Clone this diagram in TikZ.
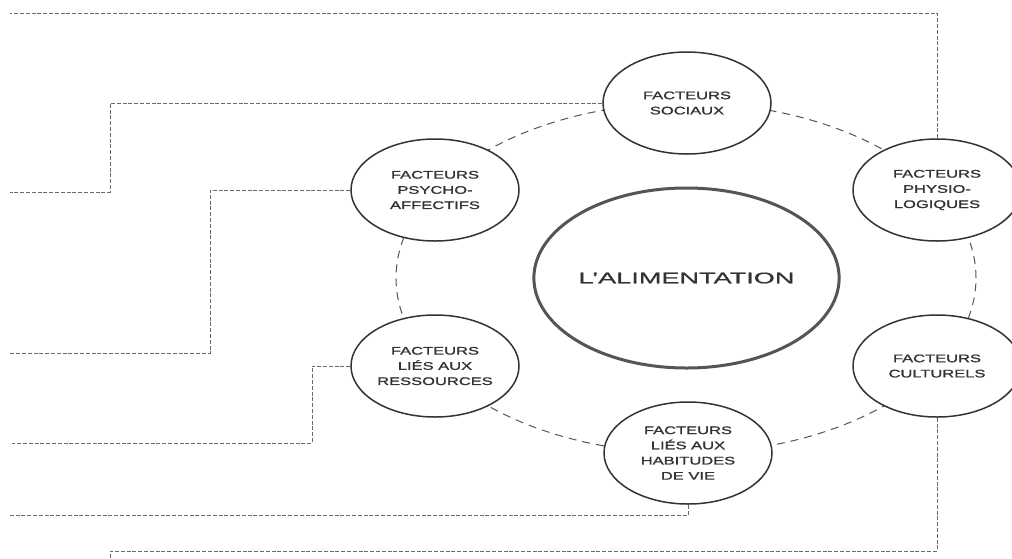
\documentclass[tikz,border=0pt]{standalone}
\usepackage{fontspec}
\usetikzlibrary{shapes.geometric}
\newfontfamily\smallwide[FakeStretch=1.5,FakeBold=1.3]{Liberation Sans}
\newfontfamily\bigwide[FakeStretch=1.76,FakeBold=0.8]{Liberation Sans}
\definecolor{ink}{HTML}{333333}
\definecolor{dashgray}{HTML}{6A6A6A}
\definecolor{ringgray}{HTML}{555555}
\definecolor{centralgray}{HTML}{555555}
\begin{document}
\begin{tikzpicture}[x=1pt,y=-1pt,
  factor/.style={ellipse, draw=ink, line width=1.5pt, fill=white,
    minimum width=168pt, minimum height=102pt, inner sep=0pt,
    align=center, text=ink, font=\smallwide\fontsize{11}{15.2}\selectfont},
  central/.style={ellipse, draw=centralgray, line width=3pt, fill=white,
    minimum width=297pt, minimum height=180pt, inner sep=0pt,
    text=ink, font=\bigwide\fontsize{15.4}{18}\selectfont},
  conn/.style={draw=dashgray, line width=0.7pt, dash pattern=on 4pt off 1.8pt},
  ring/.style={draw=ringgray, line width=1pt, dash pattern=on 8pt off 6pt}]
\clip (0,0) rectangle (1012,558);
\fill[white] (0,0) rectangle (1012,558);

% dashed ring behind the factor ellipses
\draw[ring] (686,278) ellipse [x radius=290pt, y radius=175pt];

% nodes
\node[central] (ali) at (686.5,278) {L’ALIMENTATION};
\node[factor] (soc) at (687,103) {FACTEURS\\SOCIAUX};
\node[factor] (phy) at (937,190) {FACTEURS\\PHYSIO-\\LOGIQUES};
\node[factor] (cul) at (937,366) {FACTEURS\\CULTURELS};
\node[factor] (hab) at (688,453) {FACTEURS\\LIÉS AUX\\HABITUDES\\DE VIE};
\node[factor] (res) at (435,366) {FACTEURS\\LIÉS AUX\\RESSOURCES};
\node[factor] (psy) at (435,190) {FACTEURS\\PSYCHO-\\AFFECTIFS};

% free ends and corners of connectors
\coordinate (e1) at (10,13);
\coordinate (k2) at (110,192);
\coordinate (e2) at (10,192);
\coordinate (k3) at (210,353);
\coordinate (e3) at (10,353);
\coordinate (k4) at (312,443);
\coordinate (e4) at (12,443);
\coordinate (e5) at (10,515);
\coordinate (k6) at (110,551);
\coordinate (e6) at (110,562);

% connectors
\draw[conn] (phy.north) |- (e1);
\draw[conn] (soc.west) -| (k2) -- (e2);
\draw[conn] (psy.west) -| (k3) -- (e3);
\draw[conn] (res.west) -| (k4) -- (e4);
\draw[conn] (hab.south) |- (e5);
\draw[conn] (cul.south) |- (k6) -- (e6);
\end{tikzpicture}
\end{document}
